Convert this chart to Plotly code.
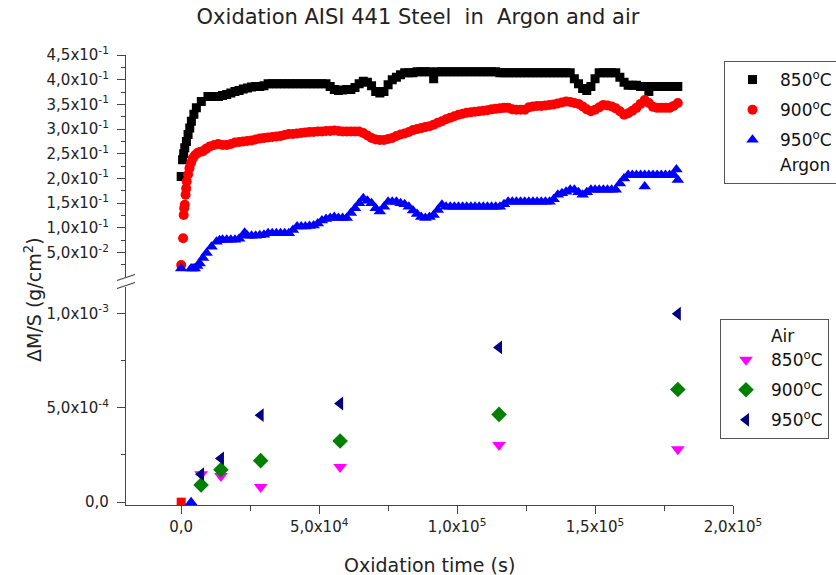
import plotly.graph_objects as go

# ---------------- data ----------------
# common sampling times (s) used for the plateau part of the argon curves
t_grid = [15000, 16500, 18000, 19500, 21000, 22500, 24000, 25500, 27000, 28500,
          30000, 31500, 33000, 34500, 36000, 37500, 39000, 40500, 42000, 43500,
          45000, 46500, 48000, 49500, 51000, 52500, 54000, 55500, 57000, 58500,
          60000, 61500, 63000, 64500, 66000, 67500, 69000, 70500, 72000, 73500,
          75000, 76500, 78000, 79500, 81000, 82500, 84000, 85500, 87000, 88500,
          90000, 91500, 93000, 94500, 96000, 97500, 99000, 100500, 102000, 103500,
          105000, 106500, 108000, 109500, 111000, 112500, 114000, 115500, 117000, 118500,
          120000, 121500, 123000, 124500, 126000, 127500, 129000, 130500, 132000, 133500,
          135000, 136500, 138000, 139500, 141000, 142500, 144000, 145500, 147000, 148500,
          150000, 151500, 153000, 154500, 156000, 157500, 159000, 160500, 162000, 163500,
          165000, 166500, 168000, 169500, 171000, 172500, 174000, 175500, 177000, 178500,
          180000]

# Argon, 850 C
t850_early = [0, 500, 900, 1300, 1900, 2500, 3100, 3700, 4600, 5500, 7300, 9700, 12000, 13500]
v850_early = [0.204, 0.238, 0.250, 0.262, 0.275, 0.289, 0.302, 0.316, 0.330, 0.343, 0.356, 0.366, 0.366, 0.366]
v850_grid = [0.368, 0.370, 0.373, 0.376, 0.378, 0.381, 0.383, 0.385, 0.386, 0.386,
             0.388, 0.392, 0.392, 0.392, 0.392, 0.392, 0.392, 0.392, 0.392, 0.392,
             0.392, 0.392, 0.392, 0.392, 0.392, 0.392, 0.386, 0.380, 0.378, 0.379,
             0.380, 0.380, 0.384, 0.392, 0.397, 0.395, 0.388, 0.376, 0.373, 0.376,
             0.390, 0.400, 0.405, 0.410, 0.414, 0.414, 0.414, 0.416, 0.416, 0.416,
             0.416, 0.402, 0.416, 0.416, 0.416, 0.416, 0.416, 0.416, 0.416, 0.416,
             0.416, 0.416, 0.416, 0.416, 0.416, 0.416, 0.416, 0.414, 0.414, 0.414,
             0.414, 0.414, 0.414, 0.414, 0.414, 0.414, 0.414, 0.414, 0.414, 0.414,
             0.414, 0.414, 0.414, 0.414, 0.414, 0.402, 0.392, 0.382, 0.378, 0.386,
             0.402, 0.414, 0.414, 0.414, 0.414, 0.414, 0.405, 0.395, 0.389, 0.389,
             0.389, 0.386, 0.386, 0.376, 0.386, 0.386, 0.386, 0.386, 0.386, 0.386,
             0.386]

# Argon, 900 C
t900_early = [0, 700, 900, 1100, 1300, 1600, 1800, 2000, 2500, 3000, 3600, 4200, 5000, 6000,
              7000, 7900, 9000, 10400, 12000, 13400]
v900_early = [0.025, 0.079, 0.126, 0.140, 0.147, 0.167, 0.180, 0.194, 0.208, 0.221, 0.232, 0.241,
              0.247, 0.252, 0.254, 0.255, 0.260, 0.265, 0.268, 0.270]
v900_grid = [0.268, 0.268, 0.270, 0.273, 0.274, 0.275, 0.276, 0.277, 0.279, 0.281,
             0.282, 0.283, 0.284, 0.285, 0.286, 0.288, 0.290, 0.290, 0.291, 0.292,
             0.293, 0.294, 0.294, 0.295, 0.295, 0.296, 0.296, 0.297, 0.296, 0.295,
             0.295, 0.295, 0.295, 0.295, 0.292, 0.287, 0.282, 0.279, 0.278, 0.278,
             0.280, 0.282, 0.286, 0.289, 0.291, 0.294, 0.298, 0.300, 0.302, 0.304,
             0.306, 0.309, 0.313, 0.316, 0.320, 0.323, 0.326, 0.329, 0.331, 0.333,
             0.334, 0.335, 0.336, 0.337, 0.338, 0.340, 0.341, 0.342, 0.343, 0.343,
             0.340, 0.339, 0.339, 0.339, 0.344, 0.346, 0.347, 0.347, 0.348, 0.349,
             0.350, 0.352, 0.354, 0.356, 0.355, 0.353, 0.351, 0.346, 0.340, 0.336,
             0.339, 0.344, 0.349, 0.348, 0.346, 0.342, 0.336, 0.329, 0.332, 0.337,
             0.343, 0.351, 0.359, 0.353, 0.345, 0.343, 0.343, 0.343, 0.343, 0.347,
             0.353]

# Argon, 950 C
t950_early = [0, 3600, 4300, 4900, 5800, 6700, 7900, 9200, 11000, 12800, 13900, 23000, 168000, 179500]
v950_early = [0.018, 0.018, 0.018, 0.018, 0.023, 0.028, 0.039, 0.049, 0.062, 0.072, 0.075, 0.090, 0.184, 0.218]
v950_grid = [0.076, 0.076, 0.076, 0.076, 0.078, 0.085, 0.084, 0.084, 0.084, 0.085,
             0.086, 0.089, 0.089, 0.089, 0.089, 0.089, 0.089, 0.096, 0.103, 0.103,
             0.103, 0.104, 0.105, 0.109, 0.115, 0.118, 0.120, 0.122, 0.120, 0.120,
             0.120, 0.130, 0.140, 0.150, 0.160, 0.155, 0.150, 0.140, 0.133, 0.143,
             0.153, 0.153, 0.153, 0.150, 0.148, 0.143, 0.135, 0.128, 0.122, 0.120,
             0.122, 0.126, 0.136, 0.147, 0.143, 0.143, 0.143, 0.143, 0.143, 0.143,
             0.143, 0.143, 0.143, 0.143, 0.143, 0.143, 0.143, 0.143, 0.148, 0.153,
             0.153, 0.153, 0.153, 0.153, 0.153, 0.153, 0.153, 0.153, 0.153, 0.153,
             0.158, 0.167, 0.170, 0.173, 0.177, 0.177, 0.172, 0.167, 0.172, 0.177,
             0.177, 0.177, 0.177, 0.177, 0.177, 0.177, 0.190, 0.200, 0.207, 0.207,
             0.207, 0.207, 0.207, 0.207, 0.207, 0.207, 0.207, 0.207, 0.207, 0.207,
             0.197]

# Air
t_air = [7200, 14400, 28800, 57600, 115200, 180000]
v850_air = [1.48e-4, 1.39e-4, 0.81e-4, 1.86e-4, 3.03e-4, 2.80e-4]
v900_air = [0.91e-4, 1.72e-4, 2.20e-4, 3.24e-4, 4.65e-4, 5.97e-4]
v950_air = [1.48e-4, 2.32e-4, 4.61e-4, 5.23e-4, 8.20e-4, 9.98e-4]
t_start = [0, 3600]
v_start = [0, 0]

# ticks
x_tickvals = [0, 50000, 100000, 150000, 200000]
x_ticktext = ["0,0", "5,0x10<sup>4</sup>", "1,0x10<sup>5</sup>", "1,5x10<sup>5</sup>", "2,0x10<sup>5</sup>"]
x_minor = [25000, 75000, 125000, 175000]
yu_tickvals = [0.05, 0.10, 0.15, 0.20, 0.25, 0.30, 0.35, 0.40, 0.45]
yu_ticktext = ["5,0x10<sup>-2</sup>", "1,0x10<sup>-1</sup>", "1,5x10<sup>-1</sup>", "2,0x10<sup>-1</sup>",
               "2,5x10<sup>-1</sup>", "3,0x10<sup>-1</sup>", "3,5x10<sup>-1</sup>", "4,0x10<sup>-1</sup>",
               "4,5x10<sup>-1</sup>"]
yu_minor = [0.025, 0.075, 0.125, 0.175, 0.225, 0.275, 0.325, 0.375, 0.425]
yl_tickvals = [0, 5e-4, 1e-3]
yl_ticktext = ["0,0", "5,0x10<sup>-4</sup>", "1,0x10<sup>-3</sup>"]
yl_minor = [2.5e-4, 7.5e-4]

# ---------------- layout helpers ----------------
W, H = 836, 575
L, R, T, B = 126, 103, 55, 70
PW, PH = W - L - R, H - T - B


def px(x):
    return (x - L) / PW


def py(y):
    return (H - B - y) / PH


FONT = "DejaVu Sans, Liberation Sans, Arial, sans-serif"
AX = "#444444"
TXT = "#222222"

fig = go.Figure()

deg = "<sup>o</sup>C"
fig.add_trace(go.Scatter(x=t850_early + t_grid, y=v850_early + v850_grid, yaxis="y2", mode="markers",
                         name="850" + deg, marker=dict(symbol="square", size=9, color="#000000"),
                         legend="legend", legendgroup="a1"))
fig.add_trace(go.Scatter(x=t900_early + t_grid, y=v900_early + v900_grid, yaxis="y2", mode="markers",
                         name="900" + deg, marker=dict(symbol="circle", size=10, color="#ff0000"),
                         legend="legend", legendgroup="a2"))
fig.add_trace(go.Scatter(x=t950_early + t_grid, y=v950_early + v950_grid, yaxis="y2", mode="markers",
                         name="950" + deg, marker=dict(symbol="triangle-up", size=11, color="#0000ff"),
                         legend="legend", legendgroup="a3"))
fig.add_trace(go.Scatter(x=[None], y=[None], yaxis="y2", mode="markers", name="Argon",
                         marker=dict(size=1, color="rgba(0,0,0,0)"),
                         legend="legend", legendgroup="a3", hoverinfo="skip"))

fig.add_trace(go.Scatter(x=t_start[:1], y=v_start[:1], mode="markers", showlegend=False,
                         marker=dict(symbol="square", size=9, color="#ff0000")))
fig.add_trace(go.Scatter(x=t_start[1:], y=v_start[1:], mode="markers", showlegend=False,
                         marker=dict(symbol="triangle-up", size=11, color="#0000ff")))
fig.add_trace(go.Scatter(x=t_air, y=v850_air, mode="markers", name="850" + deg,
                         marker=dict(symbol="triangle-down", size=12, color="#ff00ff"),
                         legend="legend2", legendgroup="b1"))
fig.add_trace(go.Scatter(x=t_air, y=v900_air, mode="markers", name="900" + deg,
                         marker=dict(symbol="diamond", size=12, color="#008000"),
                         legend="legend2", legendgroup="b2"))
fig.add_trace(go.Scatter(x=t_air, y=v950_air, mode="markers", name="950" + deg,
                         marker=dict(symbol="triangle-left", size=12, color="#000080"),
                         legend="legend2", legendgroup="b3"))

axis_common = dict(showgrid=False, zeroline=False, showline=True, linecolor=AX, linewidth=1.3,
                   ticks="outside", ticklen=8, tickwidth=1.2, tickcolor=AX,
                   tickfont=dict(family=FONT, size=15, color=TXT), tickmode="array")

fig.update_layout(
    width=W, height=H,
    margin=dict(l=L, r=R, t=T, b=B, autoexpand=False),
    paper_bgcolor="white", plot_bgcolor="white",
    font=dict(family=FONT, color=TXT),
    title=dict(text="Oxidation AISI 441 Steel&nbsp; in&nbsp; Argon and air", x=0.5, xref="container",
               y=1 - 17 / H, yref="container", xanchor="center", yanchor="middle",
               font=dict(family=FONT, size=21, color=TXT)),
    xaxis=dict(range=[-20000, 200000], anchor="y", domain=[0, 1],
               tickvals=x_tickvals, ticktext=x_ticktext,
               minor=dict(tickvals=x_minor, ticks="outside", ticklen=5, tickcolor=AX, tickwidth=1.2),
               **axis_common),
    yaxis=dict(range=[-1.5e-5, 1.14e-3], domain=[0, py(287)], anchor="x",
               tickvals=yl_tickvals, ticktext=yl_ticktext, ticklabelstandoff=5,
               minor=dict(tickvals=yl_minor, ticks="outside", ticklen=4, tickcolor=AX, tickwidth=1.2),
               **axis_common),
    yaxis2=dict(range=[0, 0.45], domain=[py(277.3), 1], anchor="x",
                tickvals=yu_tickvals, ticktext=yu_ticktext, ticklabelstandoff=5,
                minor=dict(tickvals=yu_minor, ticks="outside", ticklen=4, tickcolor=AX, tickwidth=1.2),
                **axis_common),
    legend=dict(x=px(724), y=py(61), xanchor="left", yanchor="top", bgcolor="white",
                bordercolor="#555555", borderwidth=1, itemwidth=45, tracegroupgap=5,
                font=dict(family=FONT, size=17, color="#111111")),
    legend2=dict(x=px(720), y=py(319), xanchor="left", yanchor="top", bgcolor="white",
                 bordercolor="#555555", borderwidth=1, itemwidth=40, tracegroupgap=5,
                 title=dict(text="&nbsp;&nbsp;&nbsp;Air", side="top center",
                            font=dict(family=FONT, size=17, color="#111111")),
                 font=dict(family=FONT, size=17, color="#111111")),
    showlegend=True,
)

# axis-break marks
for (x0, y0, x1, y1) in [(117, 280.5, 135, 274.5), (117, 288.5, 135, 282.5)]:
    fig.add_shape(type="line", xref="paper", yref="paper", x0=px(x0), y0=py(y0), x1=px(x1), y1=py(y1),
                  line=dict(color=AX, width=1.3))

# axis titles
fig.add_annotation(text="ΔM/S (g/cm<sup>2</sup>)", textangle=-90, xref="paper", yref="paper",
                   x=px(33), y=py(300), xanchor="center", yanchor="middle", showarrow=False,
                   font=dict(family=FONT, size=19, color=TXT))
fig.add_annotation(text="Oxidation time (s)", xref="paper", yref="paper",
                   x=0.5, y=py(565), xanchor="center", yanchor="middle", showarrow=False,
                   font=dict(family=FONT, size=19, color=TXT))

fig.write_html("out.html")
